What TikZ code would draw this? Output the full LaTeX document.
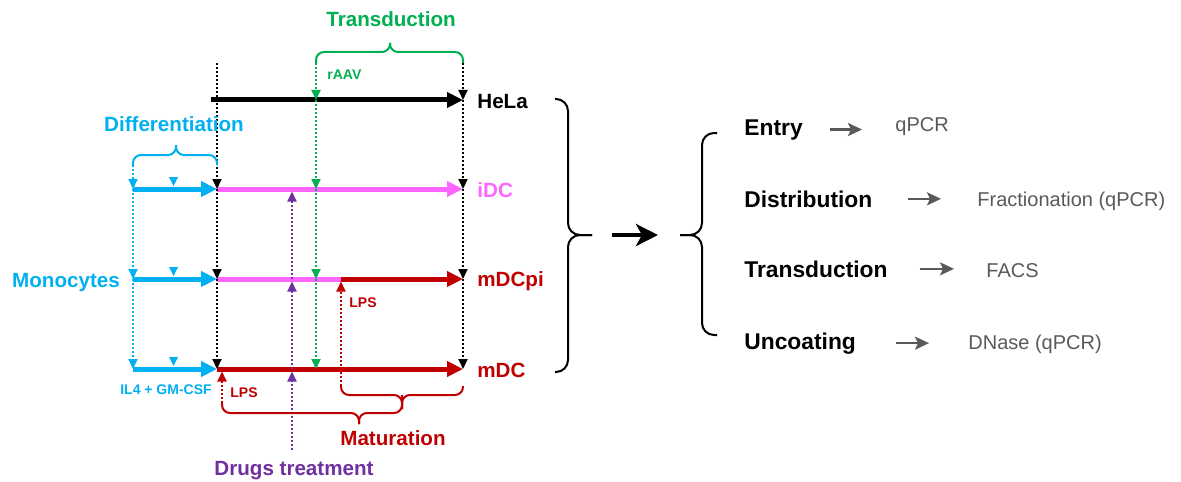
\documentclass[tikz,border=0pt]{standalone}
\usepackage{fontspec}
\setmainfont{Liberation Sans}
\usetikzlibrary{arrows.meta}
\definecolor{monoblue}{HTML}{00B0F0}
\definecolor{virgreen}{HTML}{00B050}
\definecolor{idcpink}{HTML}{FF66FF}
\definecolor{matred}{HTML}{C00000}
\definecolor{drugpurple}{HTML}{7030A0}
\definecolor{readgray}{HTML}{595959}
\tikzset{
    rowline/.style={line width=2.5pt, -{Triangle[length=8pt,width=7.5pt]}},
    plainrow/.style={line width=2.5pt},
    dotarrow/.style={line width=1pt, densely dotted, -{Triangle[length=5pt,width=4.5pt]}},
    bracket/.style={line width=1pt, rounded corners=4pt},
    bigbracket/.style={line width=1pt, rounded corners=6pt},
    biglabel/.style={font=\fontsize{10.3}{12}\selectfont\bfseries, inner sep=0pt},
    smalllabel/.style={font=\fontsize{7}{8}\selectfont\bfseries, inner sep=0pt},
    readout/.style={font=\fontsize{11.4}{13}\selectfont\bfseries, anchor=base west, inner sep=0pt},
    method/.style={font=\fontsize{10}{12}\selectfont, text=readgray, anchor=base west, inner sep=0pt},
    methodarrow/.style={line width=1.1pt, readgray, -{Stealth[length=7pt,width=6.5pt,inset=1.5pt]}}
}
\begin{document}
\begin{tikzpicture}[x=0.5pt, y=-0.5pt]
    \useasboundingbox (0,0) rectangle (1181,481);
    % rows and columns
    \coordinate (rTop)  at (0,63);
    \coordinate (rHela) at (0,100);
    \coordinate (rDiff) at (0,165);
    \coordinate (rIdc)  at (0,189);
    \coordinate (rPi)   at (0,279);
    \coordinate (rMdc)  at (0,369);
    \coordinate (rLpsB) at (0,386);
    \coordinate (rLpsA) at (0,403);
    \coordinate (rBot)  at (0,450);
    \coordinate (cMono) at (133,0);
    \coordinate (cDiff) at (217,0);
    \coordinate (cLpsA) at (222,0);
    \coordinate (cDrug) at (292,0);
    \coordinate (cVir)  at (316,0);
    \coordinate (cLpsB) at (341,0);
    \coordinate (cEnd)  at (463,0);
    \coordinate (helaStart) at (211,100);

    % timelines
    \draw[rowline] (helaStart) -- (cEnd |- rHela);
    \draw[rowline, monoblue] (cMono |- rIdc) -- (cDiff |- rIdc);
    \draw[rowline, idcpink] (cDiff |- rIdc) -- (cEnd |- rIdc);
    \draw[rowline, monoblue] (cMono |- rPi) -- (cDiff |- rPi);
    \draw[plainrow, idcpink] (cDiff |- rPi) -- (cLpsB |- rPi);
    \draw[rowline, matred] (cLpsB |- rPi) -- (cEnd |- rPi);
    \draw[rowline, monoblue] (cMono |- rMdc) -- (cDiff |- rMdc);
    \draw[rowline, matred] (cDiff |- rMdc) -- (cEnd |- rMdc);
    \fill[monoblue] (169,177) -- (178,177) -- (173.5,186) -- cycle;
    \fill[monoblue] (169,267) -- (178,267) -- (173.5,276) -- cycle;
    \fill[monoblue] (169,357) -- (178,357) -- (173.5,366) -- cycle;

    % dotted arrows
    \draw[dotarrow] (cDiff |- rTop) -- (cDiff |- rIdc);
    \draw[dotarrow] (cDiff |- rIdc) -- (cDiff |- rPi);
    \draw[dotarrow] (cDiff |- rPi) -- (cDiff |- rMdc);
    \draw[dotarrow] (cEnd |- rTop) -- (cEnd |- rHela);
    \draw[dotarrow] (cEnd |- rHela) -- (cEnd |- rIdc);
    \draw[dotarrow] (cEnd |- rIdc) -- (cEnd |- rPi);
    \draw[dotarrow] (cEnd |- rPi) -- (cEnd |- rMdc);
    \draw[dotarrow, virgreen] (cVir |- rTop) -- (cVir |- rHela);
    \draw[dotarrow, virgreen] (cVir |- rHela) -- (cVir |- rIdc);
    \draw[dotarrow, virgreen] (cVir |- rIdc) -- (cVir |- rPi);
    \draw[dotarrow, virgreen] (cVir |- rPi) -- (cVir |- rMdc);
    \draw[dotarrow, monoblue] (cMono |- rDiff) -- (cMono |- rIdc);
    \draw[dotarrow, monoblue] (cMono |- rIdc) -- (cMono |- rPi);
    \draw[dotarrow, monoblue] (cMono |- rPi) -- (cMono |- rMdc);
    \draw[dotarrow, drugpurple, shorten >=1.25pt] (cDrug |- rBot) -- (cDrug |- rMdc);
    \draw[dotarrow, drugpurple, shorten >=1.25pt] (cDrug |- rMdc) -- (cDrug |- rPi);
    \draw[dotarrow, drugpurple, shorten >=1.25pt] (cDrug |- rPi) -- (cDrug |- rIdc);
    \draw[dotarrow, matred, shorten >=1.25pt] (cLpsB |- rLpsB) -- (cLpsB |- rPi);
    \draw[dotarrow, matred, shorten >=1.25pt] (cLpsA |- rLpsA) -- (cLpsA |- rMdc);

    % braces
    \draw[bracket, virgreen] (cVir |- rTop) |- (390,52) -- (390,43);
    \draw[bracket, virgreen] (cEnd |- rTop) |- (390,52) -- (390,43);
    \draw[bracket, monoblue] (cMono |- rDiff) |- (176,155) -- (176,145);
    \draw[bracket, monoblue] (cDiff |- rDiff) |- (176,155) -- (176,145);
    \draw[bracket, matred] (cLpsB |- rLpsB) |- (402,395) -- (402,409);
    \draw[bracket, matred] (cEnd |- rLpsB) |- (402,395) -- (402,409);
    \draw[bracket, matred] (cLpsA |- rLpsA) |- (359,413) -- (359,424);
    \draw[bracket, matred] (402,395) |- (359,413) -- (359,424);

    % labels
    \node[biglabel, text=virgreen, anchor=base] (transd) at (391,27) {Transduction};
    \node[smalllabel, text=virgreen, anchor=base west] (raav) at (327,80) {rAAV};
    \node[biglabel, text=monoblue, anchor=base] (diff) at (174,131) {Differentiation};
    \node[biglabel, text=monoblue, anchor=base] (mono) at (66,287) {Monocytes};
    \node[smalllabel, text=monoblue, anchor=base] (cyto) at (166,394) {IL4 + GM-CSF};
    \node[smalllabel, text=matred, anchor=base west] (lpsPi) at (349,307) {LPS};
    \node[smalllabel, text=matred, anchor=base west] (lpsMdc) at (230,397) {LPS};
    \node[biglabel, text=matred, anchor=base] (matur) at (393,445) {Maturation};
    \node[biglabel, text=drugpurple, anchor=base] (drugs) at (294,475) {Drugs treatment};
    \node[biglabel, anchor=base west] (hela) at (477,108) {HeLa};
    \node[biglabel, text=idcpink, anchor=base west] (idc) at (477,197) {iDC};
    \node[biglabel, text=matred, anchor=base west] (mdcpi) at (477,286) {mDCpi};
    \node[biglabel, text=matred, anchor=base west] (mdc) at (477,377) {mDC};

    % readouts
    \draw[bigbracket] (555,99) -| (568,235) -- (592,235);
    \draw[bigbracket] (555,372) -| (568,235) -- (592,235);
    \coordinate (goStart) at (612,235);
    \coordinate (goEnd) at (658,235);
    \draw[line width=2.3pt, -{Stealth[length=11pt,width=11pt,inset=3pt]}] (goStart) -- (goEnd);
    \draw[bigbracket] (717,133) -| (702,235) -- (680,235);
    \draw[bigbracket] (717,335) -| (702,235) -- (680,235);

    \node[readout] (entry) at (744,135) {Entry};
    \node[readout] (distr) at (744,207) {Distribution};
    \node[readout] (transr) at (744,277) {Transduction};
    \node[readout] (uncoat) at (744,349) {Uncoating};
    \node[method] (qpcr) at (895,131) {qPCR};
    \node[method] (fract) at (977,206) {Fractionation (qPCR)};
    \node[method] (facs) at (986,277) {FACS};
    \node[method] (dnase) at (968,349) {DNase (qPCR)};
    \draw[methodarrow, shorten <=13.5pt, shorten >=16.5pt] (entry.east) -- (entry.east -| qpcr.west);
    \draw[methodarrow, shorten <=17.5pt, shorten >=18pt] (distr.east) -- (distr.east -| fract.west);
    \draw[methodarrow, shorten <=16pt, shorten >=16pt] (transr.east) -- (transr.east -| facs.west);
    \draw[methodarrow, shorten <=20pt, shorten >=19.5pt] (uncoat.east) -- (uncoat.east -| dnase.west);
\end{tikzpicture}
\end{document}
